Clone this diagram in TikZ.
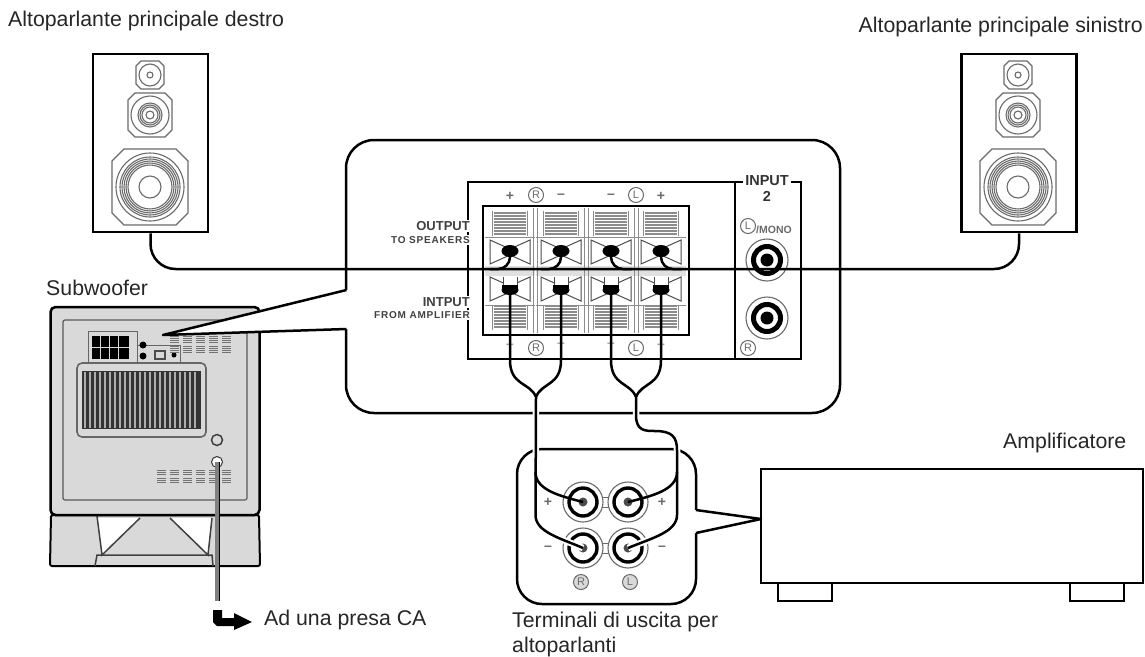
\documentclass[tikz,border=0pt]{standalone}
\usepackage{fontspec}
\setmainfont{Liberation Sans}
\usetikzlibrary{calc,shapes.geometric}
\definecolor{subgray}{gray}{0.85}
\definecolor{linegray}{gray}{0.42}
\definecolor{hatchgray}{gray}{0.55}
% driver of a speaker: chamfered square plus rings
\newcommand{\chamfer}[4]{%
  \draw[cone] (#1-#3,#2-#3+#4) -- (#1-#3+#4,#2-#3) -- (#1+#3-#4,#2-#3) -- (#1+#3,#2-#3+#4)
    -- (#1+#3,#2+#3-#4) -- (#1+#3-#4,#2+#3) -- (#1-#3+#4,#2+#3) -- (#1-#3,#2+#3-#4) -- cycle;}
\newcommand{\drivers}[1]{%
  \chamfer{#1}{75}{14}{5}
  \foreach \r in {11,3} \draw[cone] (#1,75) circle (\r pt);
  \chamfer{#1}{115}{22}{7}
  \foreach \r in {19,12,10,8,4} \draw[cone] (#1,115) circle (\r pt);
  \chamfer{#1}{187}{38}{12}
  \foreach \r in {34,30,28,26,24,22,11} \draw[cone] (#1,187) circle (\r pt);}
\begin{document}
\begin{tikzpicture}[
  x=1pt, y=-1pt,
  lbl/.style={font=\fontsize{21.3}{25}\selectfont, inner sep=0pt, align=left, text=black!85},
  cone/.style={draw=linegray, line width=1.1pt},
  box/.style={rectangle, draw, line width=2.5pt, fill=white, inner sep=0pt},
  wire/.style={draw, line width=2.5pt},
  cased/.style={wire, preaction={draw=white, line width=6.5pt}},
  callout/.style={line width=2.5pt, line join=round},
  tinylbl/.style={font=\bfseries\fontsize{10}{11}\selectfont\addfontfeature{LetterSpace=8}, inner sep=1pt, fill=white, text=black!75},
  smalllbl/.style={font=\bfseries\fontsize{13}{14}\selectfont, inner sep=1pt, fill=white, text=black!75},
  badge/.style={font=\fontsize{11}{12}\selectfont, circle, draw=linegray, line width=1pt, inner sep=0.5pt, minimum size=15pt, text=linegray},
  sign/.style={font=\bfseries\fontsize{14}{14}\selectfont, inner sep=0pt, text=linegray},
  blob/.style={ellipse, fill=black, minimum width=17pt, minimum height=12pt, inner sep=0pt},
  post/.style={circle, draw, line width=3.4pt, fill=white, minimum size=28pt, inner sep=0pt},
  jack/.style={circle, draw, line width=5pt, fill=white, minimum size=27pt, inner sep=0pt},
  ring/.style={draw=linegray, line width=1.1pt, fill=white},
  foot/.style={box, minimum width=54pt, minimum height=18pt}
]
  \useasboundingbox (0,0) rectangle (1145,656);

  % labels
  \node[lbl, anchor=west] (lblR) at (8,21) {Altoparlante principale destro};
  \node[lbl, anchor=east] (lblL) at (1143,27) {Altoparlante principale sinistro};
  \node[lbl, anchor=west] (lblSub) at (46,288) {Subwoofer};
  \node[lbl, anchor=west] (lblAC) at (264,620) {Ad una presa CA};
  \node[lbl, anchor=west] (lblAmp) at (1003,443) {Amplificatore};
  \node[lbl, anchor=north west] (lblTerm) at (512,612) {Terminali di uscita per\\altoparlanti};

  % speakers
  \node[box, minimum width=115pt, minimum height=178pt] (spkR) at (150.5,143) {};
  \node[box, minimum width=115pt, minimum height=178pt] (spkL) at (1019,143) {};
  \drivers{150}
  \drivers{1018}

  % subwoofer
  \draw[line width=2pt, fill=subgray, rounded corners=2pt] (51,515) -- (259,515) -- (260,566) -- (50,566) -- cycle;
  \fill[white] (97,518) -- (140,518) -- (102,555) -- cycle;
  \fill[white] (170,518) -- (212,518) -- (208,555) -- cycle;
  \draw[line width=1.5pt, draw=black!75] (97,516) -- (102,555) -- (140,518) (170,518) -- (208,555) -- (212,518);
  \draw[line width=1.5pt, draw=black!75] (95,566) -- (97,555) -- (212,555) -- (213,566);
  \node[box, fill=subgray, rounded corners=5pt, minimum width=209pt, minimum height=208pt] (sub) at (155,411) {};
  \node[rectangle, draw=black!65, line width=1.2pt, rounded corners=2pt, minimum width=184pt, minimum height=180pt, inner sep=0pt] (subPanel) at (155,410) {};
  \node[rectangle, draw=black!60, line width=1.6pt, fill=subgray, rounded corners=5pt, minimum width=129pt, minimum height=74pt, inner sep=0pt] (vent) at (141.5,400) {};
  \fill[black!80] (82,371) rectangle (201,429);
  \foreach \x in {85,90,...,199} \draw[subgray!80!black, line width=1.1pt] (\x,372) -- (\x,428);
  \draw[black!60, line width=0.8pt] (88,331) rectangle (137,362) (137,345) -- (180,345) -- (180,362) -- (137,362);
  \fill[black] (92,336) rectangle (129,359);
  \foreach \x in {100,109,118} \draw[subgray, line width=0.5pt] (\x,336) -- (\x,359);
  \draw[subgray, line width=0.5pt] (92,347) -- (129,347);
  \fill[black] (143,345) circle (3.5pt) (143,356) circle (3.5pt) (174,355) circle (2.5pt);
  \draw[black!70, line width=1.2pt] (155,351) rectangle (165,359);
  \foreach \x in {170,183,196,209,222} \foreach \y in {336,346}
    \foreach \d in {0,2,4,6} \draw[black!55, line width=0.8pt] (\x,\y+\d) -- ++(9,0);
  \foreach \x in {157,170,183,196,209,222} \foreach \y in {470,478}
    \foreach \d in {0,2,4} \draw[black!55, line width=0.8pt] (\x,\y+\d) -- ++(9,0);
  \node[circle, draw=black!75, line width=1.5pt, minimum size=11pt, inner sep=0pt] (knob) at (217,440) {};
  \node[circle, draw=black!80, line width=1pt, fill=white, minimum size=11pt, inner sep=0pt] (plug) at (217,462) {};
  \coordinate (plugEnd) at (217,601);
  \draw[line width=0.9pt, double=gray, double distance=3.2pt] (plug.center) -- (plugEnd);
  \fill[black] (213,610) -- (222,610) -- (222,618) -- (234,618) -- (234,613) -- (252,622)
    -- (234,630) -- (234,626) -- (217,626) -- (213,622) -- cycle;

  % main panel
  \node[box, rounded corners=28pt, minimum width=494pt, minimum height=273pt] (panel) at (593,276.5) {};
  \coordinate (subJack) at (163,335);
  \coordinate (calloutUp) at (346.5,290);
  \coordinate (calloutDn) at (346.5,329);
  \fill[white] (subJack) -- (calloutUp) -- ++(2,0) -- ($(calloutDn)+(2,0)$) -- (calloutDn) -- cycle;
  \draw[callout] (calloutUp) -- (subJack) -- (calloutDn);

  % terminal block
  \node[box, minimum width=267pt, minimum height=177pt] (inBox) at (601.5,270.5) {};
  \node[box, minimum width=66pt, minimum height=177pt] (jackBox) at (768,270.5) {};
  \node[font=\bfseries\fontsize{14.5}{16}\selectfont, fill=white, inner sep=2pt, align=center, text=black!80] (input2) at (767,189) {INPUT\\2};
  \node[box, minimum width=206pt, minimum height=129pt] (block) at (586,270.5) {};
  \foreach \c [count=\i] in {510,561,611,661} {
    \draw[hatchgray, line width=0.8pt] (\c-25,237) -- (\c+25,237) (\c-25,305) -- (\c+25,305);
    \draw[hatchgray, line width=0.8pt] (\c-18,211) -- (\c-18,236) (\c+17,211) -- (\c+17,236)
      (\c-18,306) -- (\c-18,330) (\c+17,306) -- (\c+17,330);
    \foreach \y in {213,216,...,235} \draw[hatchgray, line width=1.1pt] (\c-16,\y) -- (\c+16,\y);
    \foreach \y in {306,309,...,328} \draw[hatchgray, line width=1.1pt] (\c-16,\y) -- (\c+16,\y);
    \fill[black!12] (\c-25,266) rectangle (\c+25,276);
    \foreach \yc in {252,289}
      \draw[black!70, line width=1pt] (\c-20,\yc-12) -- (\c,\yc-3) -- (\c+20,\yc-12) -- (\c+20,\yc+12) -- (\c,\yc+3) -- (\c-20,\yc+12) -- cycle;
    \fill[white] (\c-7,277) rectangle (\c+7,286);
    \draw[black!70, line width=0.8pt] (\c-7,277) -- (\c-7,286) (\c+7,277) -- (\c+7,286);
    \node[blob] (o\i) at (\c,251) {};
    \node[blob, minimum height=10pt] (i\i) at (\c,290) {};
    \fill[black] (\c-8,285) rectangle (\c+8,290);
  }
  \foreach \x in {535,586,636}
    \draw[hatchgray, line width=1pt] (\x-2,208) -- (\x-2,333) (\x+2,208) -- (\x+2,333);
  \node[smalllbl, anchor=east] (outTxt) at (471,226) {OUTPUT};
  \node[tinylbl, anchor=east] (outSub) at (471,240) {TO SPEAKERS};
  \node[smalllbl, anchor=east] (inTxt) at (471,302) {INTPUT};
  \node[tinylbl, anchor=east] (inSub) at (471,315) {FROM AMPLIFIER};
  \node[sign] (pR) at (510,196) {+};
  \node[badge] (mR) at (536,195) {R};
  \node[sign] (nR) at (561,196) {--};
  \node[sign] (nL) at (611,196) {--};
  \node[badge] (mL) at (636,195) {L};
  \node[sign] (pL) at (661,196) {+};
  \node[badge] (mR2) at (536,348) {R};
  \node[badge] (mL2) at (636,348) {L};
  \node[sign, text=black!35] (pR2) at (510,345) {+};
  \node[sign, text=black!35] (nR2) at (561,345) {--};
  \node[sign, text=black!35] (nL2) at (611,345) {--};
  \node[sign, text=black!35] (pL2) at (661,345) {+};

  % input 2
  \node[badge] (mMono) at (748,226) {L};
  \node[font=\bfseries\fontsize{10.5}{11}\selectfont, inner sep=0pt, anchor=west, text=linegray] (mono) at (756,230) {/MONO};
  \node[badge] (mRin) at (748,348) {R};
  \foreach \n/\y in {jackA/260,jackB/318} {
    \draw[ring] (767,\y) circle (21pt);
    \node[jack] (\n) at (767,\y) {};
    \fill[black] (767,\y) circle (6.5pt);
  }

  % speaker wire
  \coordinate (wireY) at (0,269);
  \draw[wire, rounded corners=25pt] (spkR.south) -- (spkR.south |- wireY) -- (spkL.south |- wireY) -- (spkL.south);
  \foreach \i/\x in {1/490,2/541,3/632,4/682}
    \draw[wire, rounded corners=12pt] (o\i.center) |- (\x,269);

  % amplifier
  \node[box, minimum width=382pt, minimum height=114pt] (amp) at (952,526) {};
  \node[foot] (footA) at (805,592) {};
  \node[foot] (footB) at (1097,592) {};

  % output terminals
  \node[box, rounded corners=25pt, minimum width=179pt, minimum height=155pt] (termBox) at (606.5,526.5) {};
  \coordinate (ampPort) at (761,519);
  \coordinate (termUp) at (696,510);
  \coordinate (termDn) at (696,533);
  \fill[white] (ampPort) -- (termUp) -- ++(-2,0) -- ($(termDn)+(-2,0)$) -- (termDn) -- cycle;
  \draw[callout] (termUp) -- (ampPort) -- (termDn);
  \draw[linegray, line width=1pt] (590,497) -- (620,497) (590,507) -- (620,507) (590,543) -- (620,543) (590,553) -- (620,553);
  \foreach \n/\x/\y in {tRp/583/502,tLp/628/502,tRn/583/548,tLn/628/548} {
    \draw[ring] (\x,\y) circle (20pt);
    \node[post] (\n) at (\x,\y) {};
    \fill[black!70] (\x,\y) circle (4.5pt);
  }
  \node[sign] (sRp) at (548,502) {+};
  \node[sign] (sRn) at (548,548) {--};
  \node[sign] (sLp) at (662,502) {+};
  \node[sign] (sLn) at (662,548) {--};
  \node[badge, fill=black!15] (mRt) at (581,582) {R};
  \node[badge, fill=black!15] (mLt) at (630,582) {L};

  % amplifier wires
  \coordinate (joinR) at (536,397);
  \coordinate (joinL) at (636,397);
  \draw[wire] (i1.center) -- (510,360) .. controls (510,386) and (530,382) .. (joinR);
  \draw[wire] (i2.center) -- (561,360) .. controls (561,386) and (542,382) .. (joinR);
  \draw[wire] (i3.center) -- (611,360) .. controls (611,386) and (630,382) .. (joinL);
  \draw[wire] (i4.center) -- (661,360) .. controls (661,386) and (642,382) .. (joinL);
  \draw[cased] (joinR) -- (535.5,515) .. controls (535.5,532) and (560,538) .. (tRn.center);
  \draw[wire] (535.5,472) .. controls (535.5,490) and (560,496) .. (tRp.center);
  \draw[cased] (joinL) -- (636,415) .. controls (636,431) and (645,431) .. (655,431)
    .. controls (672,431) and (677,437) .. (677,450) -- (677,515)
    .. controls (677,532) and (652,538) .. (tLn.center);
  \draw[wire] (677,472) .. controls (677,490) and (652,496) .. (tLp.center);
\end{tikzpicture}
\end{document}
